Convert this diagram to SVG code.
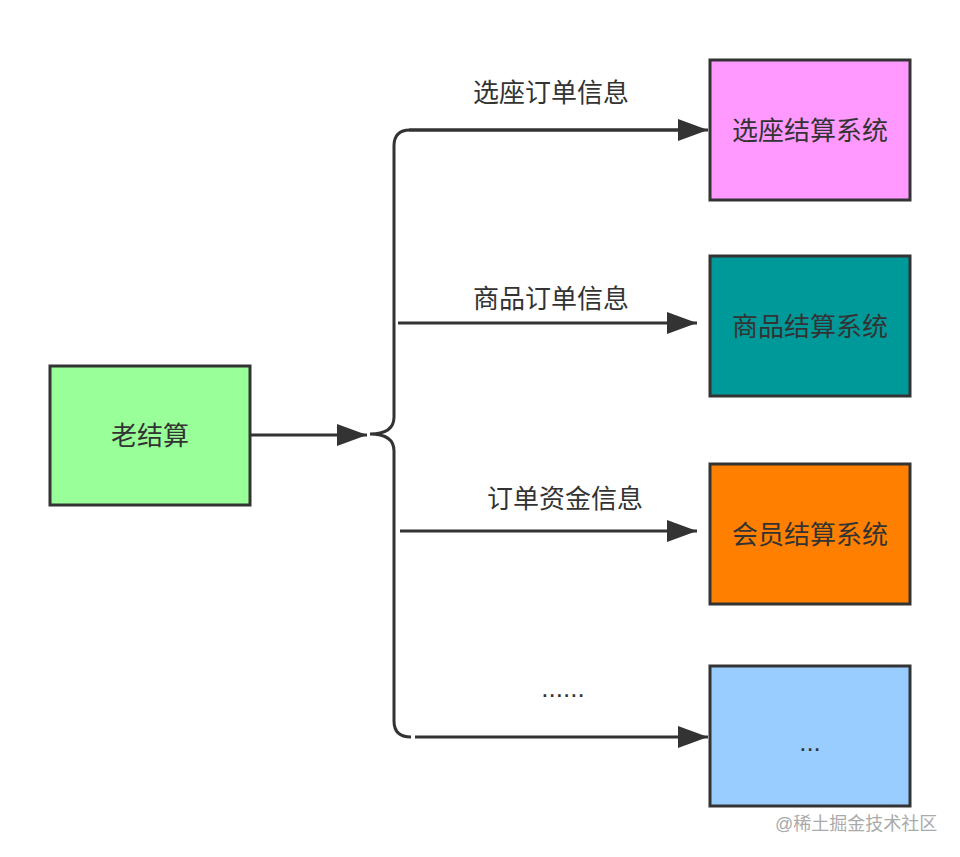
<svg xmlns="http://www.w3.org/2000/svg" width="960" height="857" viewBox="0 0 960 857">
<style>
.box{stroke:#333;stroke-width:3}
.t{font-family:"Liberation Sans","Noto Sans CJK SC",sans-serif;font-size:26px;fill:#333;text-anchor:middle}
.c{fill:none;stroke:#333;stroke-width:3}
.wm{font-family:"Liberation Sans","Noto Sans CJK SC",sans-serif;font-size:18px;fill:#aaa}
</style>
<defs>
<marker id="ah" markerWidth="32" markerHeight="24" refX="30" refY="12" markerUnits="userSpaceOnUse" orient="auto">
<path d="M0,1 L30,12 L0,23 Z" fill="#333"/>
</marker>
</defs>
<rect width="960" height="857" fill="#fff"/>
<g id="connectors">
<line class="c" x1="250" y1="435" x2="367" y2="435" marker-end="url(#ah)"/>
<path class="c" d="M410,130 L678,130 M410,130 Q394,130 394,146 L394,417 Q394,434 370,434 Q394,434 394,451 L394,721 Q394,737 411,737"/>
<line class="c" x1="409" y1="130" x2="708" y2="130" marker-end="url(#ah)"/>
<line class="c" x1="398" y1="323" x2="697" y2="323" marker-end="url(#ah)"/>
<line class="c" x1="400" y1="531" x2="697" y2="531" marker-end="url(#ah)"/>
<line class="c" x1="415" y1="737" x2="708" y2="737" marker-end="url(#ah)"/>
<text class="t" x="551" y="102">选座订单信息</text>
<text class="t" x="551" y="308">商品订单信息</text>
<text class="t" x="565" y="508">订单资金信息</text>
<text class="t" x="563" y="697">......</text>
</g>
<g id="old">
<rect class="box" x="50" y="366" width="200" height="139" fill="#99FF99"/>
<text class="t" x="150" y="445">老结算</text>
</g>
<g id="seat">
<rect class="box" x="710" y="60" width="200" height="140" fill="#FF99FF"/>
<text class="t" x="810" y="140">选座结算系统</text>
</g>
<g id="goods">
<rect class="box" x="710" y="256" width="200" height="140" fill="#009999"/>
<text class="t" x="810" y="336">商品结算系统</text>
</g>
<g id="member">
<rect class="box" x="710" y="464" width="200" height="140" fill="#FF8000"/>
<text class="t" x="810" y="544">会员结算系统</text>
</g>
<g id="more">
<rect class="box" x="710" y="666" width="200" height="140" fill="#99CCFF"/>
<text class="t" x="810" y="751">...</text>
</g>
<text class="wm" x="775" y="830">@稀土掘金技术社区</text>
</svg>
